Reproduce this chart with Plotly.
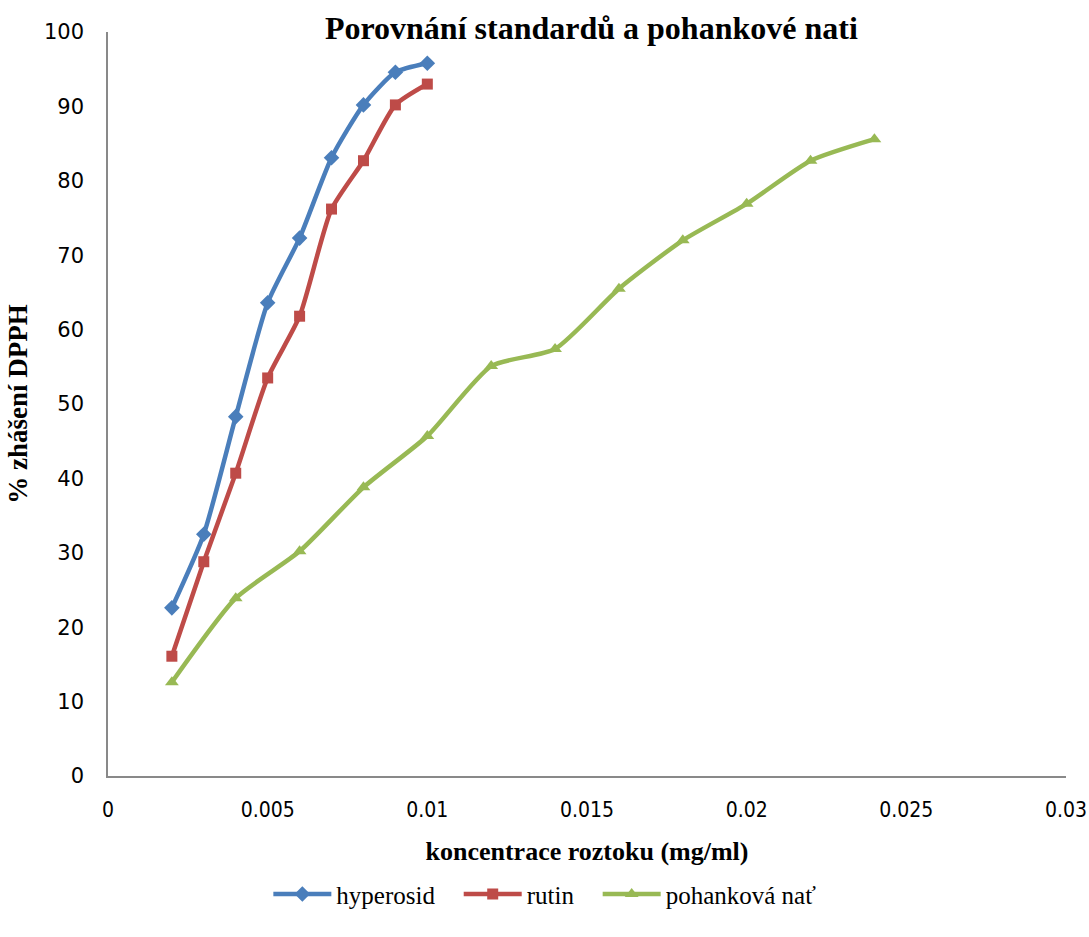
import plotly.graph_objects as go

x_std = [0.002, 0.003, 0.004, 0.005, 0.006, 0.007, 0.008, 0.009, 0.010]
hyperosid = [22.6, 32.5, 48.3, 63.6, 72.3, 83.1, 90.2, 94.6, 95.8]
rutin = [16.1, 28.8, 40.7, 53.5, 61.8, 76.2, 82.7, 90.2, 93.0]
x_nat = [0.002, 0.004, 0.006, 0.008, 0.010, 0.012, 0.014, 0.016, 0.018, 0.020, 0.022, 0.024]
pohankova_nat = [12.6, 23.9, 30.2, 38.8, 45.7, 55.1, 57.4, 65.5, 72.0, 76.9, 82.7, 85.6]

x_ticks = [0, 0.005, 0.01, 0.015, 0.02, 0.025, 0.03]
x_ticklabels = ["0", "0.005", "0.01", "0.015", "0.02", "0.025", "0.03"]
y_ticks = [0, 10, 20, 30, 40, 50, 60, 70, 80, 90, 100]

serif = "Liberation Serif, Times New Roman, serif"
pad = "\u00a0" * 3

fig = go.Figure()
fig.add_trace(go.Scatter(x=x_std, y=hyperosid, name="hyperosid" + pad, mode="lines+markers",
                         line=dict(color="#4A7EBB", width=4.5, shape="spline", smoothing=0.6),
                         marker=dict(symbol="diamond", size=12, color="#4A7EBB")))
fig.add_trace(go.Scatter(x=x_std, y=rutin, name="rutin" + pad, mode="lines+markers",
                         line=dict(color="#BE4B48", width=4.5, shape="spline", smoothing=0.6),
                         marker=dict(symbol="square", size=11, color="#BE4B48")))
fig.add_trace(go.Scatter(x=x_nat, y=pohankova_nat, name="pohanková nať", mode="lines+markers",
                         line=dict(color="#98B954", width=4.5, shape="spline", smoothing=0.6),
                         marker=dict(symbol="triangle-up", size=12, color="#98B954")))

fig.update_layout(
    width=1089, height=937,
    paper_bgcolor="white", plot_bgcolor="white",
    margin=dict(l=108, r=23, t=32, b=161, autoexpand=False),
    title=dict(text="<b>Porovnání standardů a pohankové nati</b>", x=0.543, xanchor="center",
               y=0.97, yanchor="middle", font=dict(family=serif, size=32, color="black")),
    xaxis=dict(range=[0, 0.03], tickvals=x_ticks, ticktext=x_ticklabels, showgrid=False,
               showline=True, linecolor="#898989", linewidth=1.5, ticks="", zeroline=False,
               ticklabelstandoff=14,
               tickfont=dict(family="DejaVu Sans Condensed, Liberation Sans Narrow, sans-serif", size=21, color="black"),
               title=dict(text="<b>koncentrace roztoku (mg/ml)</b>", font=dict(family=serif, size=26, color="black"),
                          standoff=21)),
    yaxis=dict(range=[0, 100], tickvals=y_ticks, showgrid=False, showline=True, linecolor="#898989",
               linewidth=1.5, ticks="", zeroline=False, ticklabelstandoff=18,
               tickfont=dict(family="DejaVu Sans, sans-serif", size=21, color="black"),
               title=dict(text="<b>% zhášení DPPH</b>", font=dict(family=serif, size=27, color="black"),
                          standoff=9)),
    legend=dict(orientation="h", x=0.456, xanchor="center", y=-0.128, yanchor="top",
                font=dict(family=serif, size=25, color="black"), itemwidth=58, tracegroupgap=0),
    showlegend=True,
)

fig.write_html("out.html")
